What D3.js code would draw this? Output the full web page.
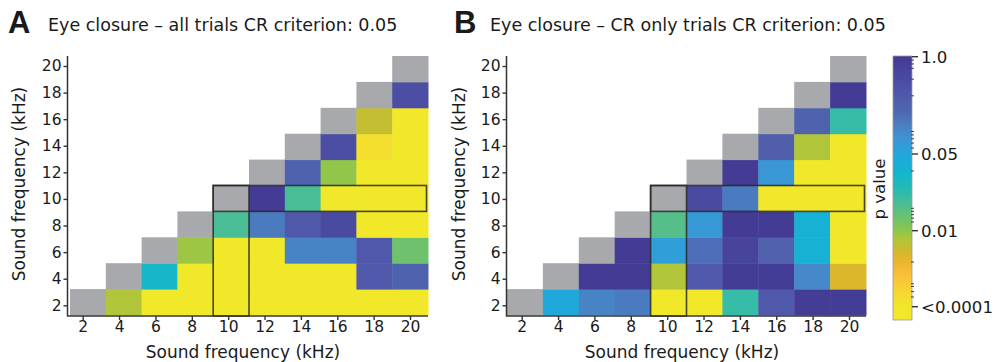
<!DOCTYPE html>
<html><head><meta charset="utf-8">
<script src="https://cdn.jsdelivr.net/npm/d3@7"></script>
<style>
body{margin:0;background:#fff}
svg{display:block}
text{font-family:"DejaVu Sans",sans-serif;fill:#1a1a1a}
</style>
</head><body>
<svg id="c" width="996" height="362"></svg>
<script>
// ---------- data ----------
const freqs = [2, 4, 6, 8, 10, 12, 14, 16, 18, 20];          // kHz, both axes
const tickLabels = ["2","4","6","8","10","12","14","16","18","20"];
const Y = 0.00005;   // "<0.0001"
const G = NaN;       // grey (same-frequency) cell
const _ = null;      // no cell
// p values, rows = y frequency 2..20, columns = x frequency 2..20
const pAllTrials = [
  [G, 0.006, Y, Y, Y, Y, Y, Y, Y, Y],
  [_, G, 0.032, Y, Y, Y, Y, Y, 0.3, 0.22],
  [_, _, G, 0.008, Y, Y, 0.11, 0.11, 0.3, 0.013],
  [_, _, _, G, 0.018, 0.13, 0.3, 0.5, Y, Y],
  [_, _, _, _, G, 0.95, 0.018, Y, Y, Y],
  [_, _, _, _, _, G, 0.22, 0.0095, Y, Y],
  [_, _, _, _, _, _, G, 0.45, 0.00015, Y],
  [_, _, _, _, _, _, _, G, 0.004, Y],
  [_, _, _, _, _, _, _, _, G, 0.45],
  [_, _, _, _, _, _, _, _, _, G]
];
const pCROnly = [
  [G, 0.047, 0.11, 0.13, Y, Y, 0.021, 0.3, 0.9, 0.9],
  [_, G, 0.95, 0.95, 0.006, 0.3, 0.9, 0.9, 0.1, 0.0022],
  [_, _, G, 0.95, 0.06, 0.16, 0.65, 0.24, 0.038, Y],
  [_, _, _, G, 0.016, 0.07, 0.95, 0.95, 0.038, Y],
  [_, _, _, _, G, 0.5, 0.13, Y, Y, Y],
  [_, _, _, _, _, G, 0.95, 0.075, Y, Y],
  [_, _, _, _, _, _, G, 0.25, 0.006, Y],
  [_, _, _, _, _, _, _, G, 0.22, 0.021],
  [_, _, _, _, _, _, _, _, G, 0.95],
  [_, _, _, _, _, _, _, _, _, G]
];
const highlightFreq = 10;
const titleA = "Eye closure \u2013 all trials CR criterion: 0.05";
const titleB = "Eye closure \u2013 CR only trials CR criterion: 0.05";
const axisLabel = "Sound frequency (kHz)";
// colour map (p value -> colour)
const cmapP = [0.00003, 0.0001, 0.0003, 0.0008, 0.0015, 0.003, 0.006, 0.01, 0.015, 0.02, 0.025, 0.035, 0.05, 0.08, 0.12, 0.18, 0.3, 0.5, 1.0];
const cmapC = ["#f2e92a","#f2e62a","#f7d234","#f9bc3b","#e9b531","#d2b92c","#b0c53a","#8dc64c","#5ebf80","#3cbca2","#22bab7","#13b4d0","#24a6dc","#3e93d3","#4a80c2","#4f68b2","#5059a9","#4a4ba0","#433a94"];
const cbarTicks = [1.0, 0.05, 0.01, 0.0001];
const cbarTickLabels = ["1.0", "0.05", "0.01", "<0.0001"];
const cbarMinor = [0.9, 0.8, 0.7, 0.5, 0.3, 0.1, 0.09, 0.08, 0.07, 0.06, 0.035, 0.016, 0.015, 0.014, 0.013, 0.012, 0.0015, 0.0004, 0.00034, 0.00025, 0.00018];

// ---------- drawing ----------
const svg = d3.select("#c");
const greyCell = "#a8a9ad";
const axisCol = "#333";

const color = d3.scaleLinear()
  .domain(cmapP.map(p => Math.log10(p)))
  .range(cmapC)
  .clamp(true);

function panel(cfg) {
  const g = svg.append("g");
  const xb = d3.scaleBand().domain(freqs).range(cfg.cellX);
  const yb = d3.scaleBand().domain(freqs).range([315, 56]);
  const xt = d3.scalePoint().domain(freqs).range(cfg.tickX);
  const yt = d3.scalePoint().domain(freqs).range([305.3, 66]);

  const cells = [];
  cfg.data.forEach((row, i) => row.forEach((p, j) => {
    if (p !== null) cells.push({x: freqs[j], y: freqs[i], p});
  }));
  g.selectAll("rect.cell").data(cells).join("rect")
    .attr("class", "cell")
    .attr("x", d => xb(d.x)).attr("y", d => yb(d.y))
    .attr("width", xb.bandwidth() + 0.5).attr("height", yb.bandwidth() + 0.5)
    .attr("fill", d => isNaN(d.p) ? greyCell : color(Math.log10(d.p)));

  // highlight outlines
  const hf = highlightFreq;
  const bw = xb.bandwidth(), bh = yb.bandwidth();
  g.append("rect")
    .attr("x", xb(hf)).attr("y", yb(hf))
    .attr("width", xb(freqs[freqs.length-1]) + bw - xb(hf) - 1.5)
    .attr("height", bh)
    .attr("fill", "none").attr("stroke", "#2a2a2a").attr("stroke-width", 1.6).attr("stroke-opacity", 0.85);
  g.append("rect")
    .attr("x", xb(hf)).attr("y", yb(hf))
    .attr("width", bw)
    .attr("height", yb(freqs[0]) + bh - yb(hf) + 1)
    .attr("fill", "none").attr("stroke", "#2a2a2a").attr("stroke-width", 1.6).attr("stroke-opacity", 0.85);

  // axes
  const yAx = g.append("g").attr("transform", `translate(${cfg.axisX},0)`)
    .call(d3.axisLeft(yt).tickSize(4).tickPadding(2).tickFormat((d, i) => tickLabels[i]));
  const xAx = g.append("g").attr("transform", `translate(0,316)`)
    .call(d3.axisBottom(xt).tickSize(4).tickFormat((d, i) => tickLabels[i]));
  [yAx, xAx].forEach(a => {
    a.select(".domain").remove();
    a.selectAll("line").attr("stroke", axisCol).attr("stroke-width", 1.4);
    a.selectAll("text").style("font-family", '"DejaVu Sans",sans-serif').style("font-size", "15.5px").attr("fill", "#1a1a1a");
  });
  xAx.selectAll("text").attr("dy", null).attr("y", 16);
  g.append("line").attr("x1", cfg.axisX).attr("x2", cfg.axisX).attr("y1", 56).attr("y2", 316.5)
    .attr("stroke", axisCol).attr("stroke-width", 1.5);
  g.append("line").attr("x1", cfg.axisX).attr("x2", cfg.cellX[1]).attr("y1", 316).attr("y2", 316)
    .attr("stroke", axisCol).attr("stroke-width", 1.5);

  // labels
  g.append("text").attr("x", cfg.xLabelX).attr("y", 358).attr("text-anchor", "middle")
    .style("font-size", "17px").text(axisLabel);
  g.append("text").attr("transform", `translate(${cfg.yLabelX},184) rotate(-90)`)
    .attr("text-anchor", "middle").style("font-size", "17px").text(axisLabel);
  g.append("text").attr("x", cfg.letterX).attr("y", 33)
    .style("font-family", '"Liberation Sans",Arial,sans-serif').style("font-weight", "bold").style("font-size", "31px")
    .text(cfg.letter);
  g.append("text").attr("x", cfg.titleX).attr("y", 31).style("font-size", "17.5px").text(cfg.title);
}

panel({data: pAllTrials, cellX: [70, 428], tickX: [82.7, 410], axisX: 67.5,
       xLabelX: 243, yLabelX: 25, letter: "A", letterX: 8, title: titleA, titleX: 48});
panel({data: pCROnly, cellX: [507, 866], tickX: [521.7, 849], axisX: 506.5,
       xLabelX: 682, yLabelX: 465, letter: "B", letterX: 454, title: titleB, titleX: 490});

// ---------- colour bar ----------
const cb = {x: 893, w: 19};
const cbY = d3.scaleLinear()
  .domain([-4.35, -4, -2, Math.log10(0.05), 0])
  .range([320, 306.7, 230.7, 154, 56.7]);
const cbTop = cbY(0) - 0.7, cbBot = cbY(-4.35);
const defs = svg.append("defs");
const grad = defs.append("linearGradient").attr("id", "cbg")
  .attr("x1", 0).attr("y1", 0).attr("x2", 0).attr("y2", 1);
cmapP.slice().reverse().forEach(p => {
  const lp = Math.max(Math.log10(p), -4.35);
  grad.append("stop")
    .attr("offset", (cbY(lp) - cbTop) / (cbBot - cbTop))
    .attr("stop-color", color(Math.log10(p)));
});
svg.append("rect").attr("x", cb.x).attr("y", cbTop).attr("width", cb.w).attr("height", cbBot - cbTop)
  .attr("fill", "url(#cbg)").attr("stroke", "#9a9a9a").attr("stroke-width", 0.8);
svg.selectAll("line.cbminor").data(cbarMinor).join("line")
  .attr("class", "cbminor")
  .attr("x1", cb.x + cb.w - 1).attr("x2", cb.x + cb.w + 2)
  .attr("y1", d => cbY(Math.log10(d))).attr("y2", d => cbY(Math.log10(d)))
  .attr("stroke", "#444").attr("stroke-width", 1);
svg.selectAll("line.cbmajor").data(cbarTicks).join("line")
  .attr("class", "cbmajor")
  .attr("x1", cb.x + cb.w).attr("x2", cb.x + cb.w + 6)
  .attr("y1", d => cbY(Math.log10(d))).attr("y2", d => cbY(Math.log10(d)))
  .attr("stroke", "#333").attr("stroke-width", 1.4);
svg.selectAll("text.cblab").data(cbarTicks).join("text")
  .attr("class", "cblab")
  .attr("x", cb.x + cb.w + 9).attr("y", d => cbY(Math.log10(d)))
  .attr("dy", "0.35em").style("font-size", "16.6px")
  .text((d, i) => cbarTickLabels[i]);
svg.append("text").attr("transform", "translate(885,189) rotate(-90)")
  .attr("text-anchor", "middle").style("font-size", "16.6px").text("p value");
</script>
</body></html>
